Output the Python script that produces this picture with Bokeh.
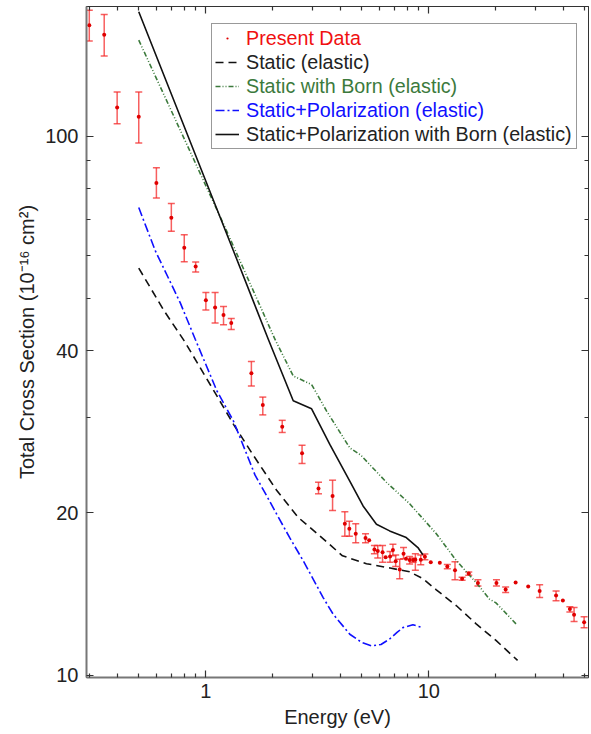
from bokeh.plotting import figure
from bokeh.models import (LogAxis, FixedTicker, CustomJSTickFormatter, Whisker, TeeHead,
                          ColumnDataSource, Legend, LegendItem, Range1d)
from bokeh.embed import file_html
from bokeh.resources import INLINE

# ---------------- data ----------------
energy = [0.30, 0.35, 0.40, 0.50, 0.60, 0.70, 0.80, 0.90, 1.0, 1.1, 1.2, 1.3, 1.6, 1.8, 2.2,
          2.7, 3.2, 3.7, 4.2, 4.4, 4.7, 5.2, 5.4, 5.7, 5.9, 6.2, 6.4, 6.7, 6.9, 7.1, 7.4,
          7.7, 7.9, 8.2, 8.5, 8.7, 9.2, 9.6, 10.2, 11.2, 12.1, 13.1, 14.1, 15.1, 16.6,
          20.1, 22.1, 24.5, 27.9, 31.4, 37.2, 39.9, 42.9, 44.8, 49.7]
cross = [160.6, 154.3, 113.0, 108.7, 81.9, 70.6, 62.1, 57.3, 49.6, 48.1, 46.6, 45.0, 36.3,
         31.7, 28.9, 25.8, 22.2, 21.5, 19.1, 18.7, 18.3, 17.96, 17.8, 17.1, 17.0, 16.9,
         16.55, 16.6, 17.06, 16.27, 15.7, 16.8, 16.45, 16.36, 16.35, 16.38, 16.38, 16.58,
         16.2, 16.16, 15.9, 15.66, 15.1, 15.43, 14.83, 14.83, 14.42, 14.85, 14.6, 14.33,
         14.05, 13.75, 13.26, 12.95, 12.54]
cross_lo = [150.1, 140.9, 105.4, 97.1, 76.8, 66.6, 58.5, 56.0, 47.6, 45.0, 44.7, 43.8, 34.4,
            30.4, 28.2, 24.7, 21.7, 20.2, 18.1, 18.1, 17.6, 17.6, 17.8, 16.8, 16.5, 16.2,
            16.55, 16.2, 16.65, 15.9, 15.1, 16.45, 16.45, 16.07, 16.2, 15.66, 16.02, 16.38,
            16.2, 16.16, 15.75, 15.03, 15.0, 15.33, 14.63, 14.63, 14.23, 14.85, 14.6, 13.93,
            13.74, 13.75, 13.09, 12.57, 12.25]
cross_hi = [171.3, 168.1, 120.7, 120.8, 87.4, 75.0, 65.6, 58.4, 51.3, 51.3, 48.3, 45.9, 38.2,
            32.8, 29.7, 26.7, 22.8, 23.0, 20.1, 19.3, 19.1, 18.3, 17.8, 17.4, 17.4, 17.4,
            16.55, 16.96, 17.5, 16.7, 16.4, 17.25, 16.45, 16.6, 16.5, 16.8, 16.7, 16.78,
            16.2, 16.16, 16.05, 16.24, 15.2, 15.53, 15.03, 15.03, 14.58, 14.85, 14.6, 14.71,
            14.33, 13.75, 13.39, 13.35, 12.83]

static_e = [0.5, 0.65, 0.8, 0.95, 1.1, 1.33, 1.63, 2.08, 2.6, 3.36, 4.1, 5.25, 6.7, 8.2,
            9.4, 10.8, 13.3, 16.3, 20.0, 25.0]
static_s = [56.9, 47.4, 41.7, 37.0, 33.4, 29.2, 25.6, 22.0, 19.6, 17.9, 16.65, 16.1, 15.8,
            15.55, 15.1, 14.4, 13.45, 12.45, 11.6, 10.65]

born_e = [0.5, 1.2, 2.04, 2.465, 2.98, 3.48, 4.42, 4.95, 6.45, 8.2, 10.8, 13.3, 16.3,
          18.7, 20.0, 24.6]
born_s = [150.7, 68.7, 42.0, 35.9, 34.6, 30.9, 26.4, 25.6, 22.8, 20.8, 18.3, 16.3, 14.85,
          13.84, 13.62, 12.45]

pol_e = [0.5, 0.593, 0.767, 0.896, 1.12, 1.33, 1.662, 1.875, 2.077, 2.38, 2.733, 3.357,
         3.72, 4.42, 5.0, 5.53, 6.1, 6.67, 7.2, 7.65, 8.48, 9.4]
pol_s = [73.7, 61.3, 49.1, 42.0, 33.7, 29.6, 23.5, 21.5, 19.9, 17.97, 16.3, 13.93,
         12.98, 11.91, 11.5, 11.33, 11.4, 11.67, 12.0, 12.25, 12.40, 12.25]

polborn_e = [0.5, 1.329, 1.905, 2.465, 2.98, 3.596, 4.42, 5.07, 5.82, 6.67, 7.92, 8.93, 9.4]
polborn_s = [170.1, 61.3, 42.0, 32.3, 31.2, 26.8, 22.9, 20.6, 19.06, 18.52, 18.0, 17.25, 16.72]

x_major = [1, 10]
x_minor = [0.3, 0.4, 0.5, 0.6, 0.7, 0.8, 0.9, 2, 3, 4, 5, 6, 7, 8, 9, 20, 30, 40, 50]
y_major = [10, 20, 40, 100]
y_minor = [30, 50, 60, 70, 80, 90]

labels = ["Present Data", "Static (elastic)", "Static with Born (elastic)",
          "Static+Polarization (elastic)", "Static+Polarization with Born (elastic)"]

# ---------------- style ----------------
FONT = "Liberation Sans"
FS = "20px"
FS_LEG = "19.7px"
RED = "#f01010"
GREEN = "#3c7a3c"
BLUE = "#1010ff"
BLACK = "#111111"
TEXT = "#222222"
label_colors = [RED, TEXT, GREEN, BLUE, TEXT]

p = figure(width=590, height=732, x_axis_type="log", y_axis_type="log",
           x_range=Range1d(0.2915, 52.0), y_range=Range1d(9.9, 174.0),
           output_backend="svg", toolbar_location=None,
           min_border_left=86, min_border_right=2, min_border_top=6, min_border_bottom=55)
p.xgrid.visible = False
p.ygrid.visible = False
p.outline_line_color = "#333333"
p.outline_line_width = 1
p.background_fill_color = "white"
p.border_fill_color = "white"

fmt = CustomJSTickFormatter(code="return tick.toString();")
blank = CustomJSTickFormatter(code="return '';")


def style_axis(ax, main=True):
    ax.major_tick_in = 7
    ax.major_tick_out = 0
    ax.minor_tick_in = 4
    ax.minor_tick_out = 0
    ax.major_tick_line_color = "#333333"
    ax.minor_tick_line_color = "#333333"
    ax.major_tick_line_width = 1.2
    ax.minor_tick_line_width = 1.2
    if main:
        ax.axis_line_color = "#777777"
        ax.axis_line_width = 2
        ax.major_label_text_font = FONT
        ax.major_label_text_font_size = FS
        ax.major_label_text_color = TEXT
        ax.axis_label_text_font = FONT
        ax.axis_label_text_font_size = FS
        ax.axis_label_text_font_style = "normal"
        ax.axis_label_text_color = TEXT
        ax.formatter = fmt
    else:
        ax.axis_line_color = "#333333"
        ax.axis_line_width = 1
        ax.formatter = blank
        ax.major_label_text_font_size = "2px"
        ax.major_label_text_alpha = 0
        ax.major_label_standoff = 0


p.xaxis.ticker = FixedTicker(ticks=x_major, minor_ticks=x_minor)
p.yaxis.ticker = FixedTicker(ticks=y_major, minor_ticks=y_minor)
style_axis(p.xaxis[0])
style_axis(p.yaxis[0])
p.xaxis.axis_label = "Energy (eV)"
p.yaxis.axis_label = "Total Cross Section (10\u207b\u00b9\u2076 cm\u00b2)"
p.xaxis.major_label_standoff = 6
p.xaxis.axis_label_standoff = 5
p.yaxis.major_label_standoff = 8
p.yaxis.axis_label_standoff = 4

top_ax = LogAxis(ticker=FixedTicker(ticks=x_major, minor_ticks=x_minor))
style_axis(top_ax, main=False)
p.add_layout(top_ax, "above")
right_ax = LogAxis(ticker=FixedTicker(ticks=y_major, minor_ticks=y_minor))
style_axis(right_ax, main=False)
p.add_layout(right_ax, "right")

# ---------------- glyphs ----------------
r_static = p.line(static_e, static_s, line_color=BLACK, line_width=1.6, line_dash="8 5")
r_born = p.line(born_e, born_s, line_color=GREEN, line_width=1.6, line_dash="5 2 1 2 1 2")
r_pol = p.line(pol_e, pol_s, line_color=BLUE, line_width=1.6, line_dash="9 3 2 3")
r_polborn = p.line(polborn_e, polborn_s, line_color=BLACK, line_width=1.6)

err_idx = [i for i in range(len(energy)) if cross_hi[i] > cross_lo[i]]
err_src = ColumnDataSource(dict(x=[energy[i] for i in err_idx],
                                lo=[cross_lo[i] for i in err_idx],
                                hi=[cross_hi[i] for i in err_idx]))
whisk = Whisker(source=err_src, base="x", lower="lo", upper="hi", dimension="height",
                line_color="#f42a2a", line_alpha=0.75, line_width=1.5,
                lower_head=TeeHead(size=7, line_color="#f42a2a", line_alpha=0.75, line_width=1.5),
                upper_head=TeeHead(size=7, line_color="#f42a2a", line_alpha=0.75, line_width=1.5))
p.add_layout(whisk)
r_data = p.scatter(energy, cross, marker="dot", size=16, color="#e00000")

# ---------------- legend ----------------
renderers = [r_data, r_static, r_born, r_pol, r_polborn]
PAD, SP, ROWH = 3, 2, 22
LX = 125
LY = 528  # bottom of legend box, from frame bottom

common = dict(padding=PAD, spacing=SP, glyph_width=24, glyph_height=ROWH, label_height=ROWH,
              label_standoff=8, label_text_font=FONT, label_text_font_size=FS_LEG, margin=0)
# frame + line samples (labels drawn by the coloured single-item legends below)
main_leg = Legend(items=[LegendItem(label=" ", renderers=[r]) for r in renderers],
                  location=(LX, LY), border_line_color="#333333", border_line_width=1,
                  background_fill_color="white", background_fill_alpha=1.0,
                  label_width=326, label_text_alpha=0.0, **common)
p.add_layout(main_leg)

dummy = p.line([0.5, 0.5], [20, 20], line_alpha=0)
for i, (l, c) in enumerate(zip(labels, label_colors)):
    lg = Legend(items=[LegendItem(label=l, renderers=[dummy])],
                location=(LX, LY + (4 - i) * (ROWH + SP)), border_line_alpha=0,
                background_fill_alpha=0, label_text_color=c, **common)
    p.add_layout(lg)

open("out.html", "w").write(file_html(p, INLINE))
